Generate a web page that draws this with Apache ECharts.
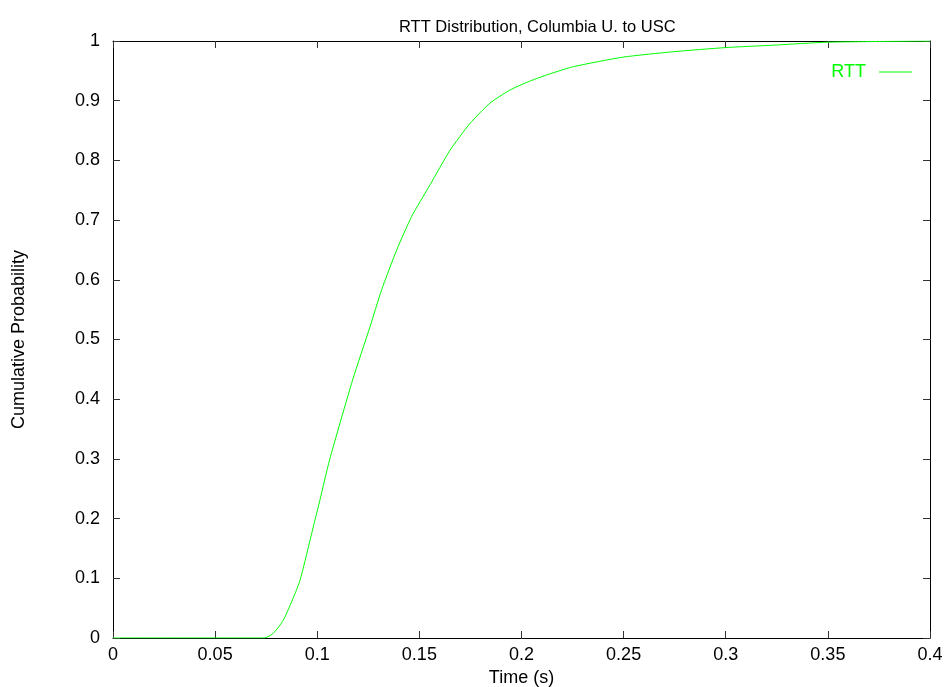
<!DOCTYPE html>
<html>
<head>
<meta charset="utf-8">
<script src="https://cdn.jsdelivr.net/npm/echarts@6/dist/echarts.min.js"></script>
<style>
  html, body { margin: 0; padding: 0; background: #fff; }
  #chart { width: 947px; height: 687px; }
</style>
</head>
<body>
<div id="chart"></div>
<script>
// RTT CDF values
var timeS = [0, 0.074, 0.0785, 0.0834, 0.0886, 0.0916, 0.0965, 0.0989, 0.1013, 0.106,
  0.1173, 0.1258, 0.1315, 0.1389, 0.1462, 0.1552, 0.165, 0.1748, 0.1846, 0.1944,
  0.2042, 0.214, 0.2254, 0.2498, 0.2743, 0.3001, 0.3233, 0.3499, 0.4];
var cumProb = [0, 0, 0.008, 0.030, 0.070, 0.097, 0.164, 0.198, 0.231, 0.298,
  0.432, 0.521, 0.583, 0.650, 0.706, 0.759, 0.817, 0.862, 0.896, 0.918,
  0.933, 0.945, 0.957, 0.973, 0.982, 0.989, 0.993, 0.998, 1.0];
var xTicks = [0, 0.05, 0.1, 0.15, 0.2, 0.25, 0.3, 0.35, 0.4];
var yTicks = [0, 0.1, 0.2, 0.3, 0.4, 0.5, 0.6, 0.7, 0.8, 0.9, 1];

var font = '"Liberation Sans", Arial, sans-serif';
var green = '#00ff00';

var points = timeS.map(function (t, i) { return [t, cumProb[i]]; });

var myChart = echarts.init(document.getElementById('chart'), null, { renderer: 'canvas' });

function frameAxis(pos, isX, showLabel) {
  return {
    type: 'value',
    position: pos,
    min: isX ? xTicks[0] : yTicks[0],
    max: isX ? xTicks[xTicks.length - 1] : yTicks[yTicks.length - 1],
    interval: isX ? 0.05 : 0.1,
    axisLine: { show: true, onZero: false, lineStyle: { color: '#000', width: 1 } },
    axisTick: { show: true, inside: true, length: 7, lineStyle: { color: '#333', width: 1 } },
    splitLine: { show: false },
    axisLabel: {
      show: showLabel,
      color: '#000',
      fontFamily: font,
      fontSize: 18,
      margin: isX ? 8 : 13,
      formatter: function (v) { return String(+v.toFixed(2)); }
    }
  };
}

var xBottom = frameAxis('bottom', true, true);
xBottom.name = 'Time (s)';
xBottom.nameLocation = 'middle';
xBottom.nameGap = 27;
xBottom.nameTextStyle = { color: '#000', fontFamily: font, fontSize: 18 };

var yLeft = frameAxis('left', false, true);
yLeft.name = 'Cumulative Probability';
yLeft.nameLocation = 'middle';
yLeft.nameGap = 85;
yLeft.nameRotate = 90;
yLeft.nameTextStyle = { color: '#000', fontFamily: font, fontSize: 18 };

myChart.setOption({
  animation: false,
  title: {
    text: 'RTT Distribution, Columbia U. to USC',
    left: 394,
    top: 14,
    textStyle: { color: '#000', fontFamily: font, fontSize: 16.5, fontWeight: 'normal' }
  },
  legend: {
    data: [{ name: 'RTT', icon: 'rect' }],
    right: 30,
    top: 58,
    align: 'right',
    itemWidth: 33,
    itemHeight: 1,
    itemStyle: { color: green },
    textStyle: { color: green, fontFamily: font, fontSize: 18, padding: [0, 8, 0, 0] }
  },
  grid: { left: 113, right: 17, top: 41, bottom: 49, outerBoundsMode: 'none' },
  xAxis: [xBottom, frameAxis('top', true, false)],
  yAxis: [yLeft, frameAxis('right', false, false)],
  series: [{
    name: 'RTT',
    type: 'line',
    data: points,
    symbol: 'none',
    showSymbol: false,
    smooth: 0.2,
    lineStyle: { color: green, width: 1 },
    itemStyle: { color: green }
  }]
});
</script>
</body>
</html>
